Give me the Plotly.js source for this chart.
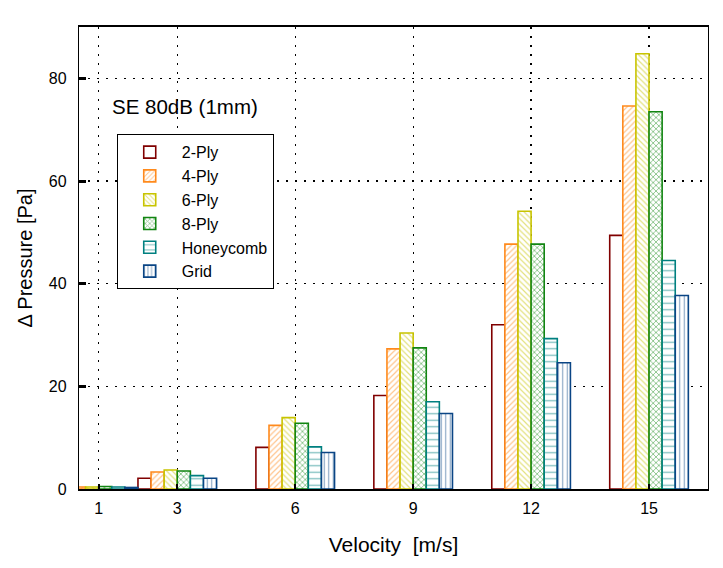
<!DOCTYPE html>
<html>
<head>
<meta charset="utf-8">
<script src="https://cdn.plot.ly/plotly-3.0.1.min.js"></script>
<style>html,body{margin:0;padding:0;background:#fff}#chart{width:723px;height:568px}</style>
</head>
<body>
<div id="chart"></div>
<script>
const velocity = [1, 3, 6, 9, 12, 15];
const tickLabels = ["1", "3", "6", "9", "12", "15"];
const ply2 = [0.3, 2.1, 8.1, 18.2, 32.0, 49.4];
const ply4 = [0.4, 3.3, 12.4, 27.3, 47.7, 74.6];
const ply6 = [0.4, 3.7, 13.9, 30.4, 54.1, 84.8];
const ply8 = [0.5, 3.5, 12.8, 27.5, 47.7, 73.5];
const honeycomb = [0.4, 2.6, 8.2, 17.0, 29.3, 44.5];
const grid = [0.3, 2.1, 7.1, 14.7, 24.6, 37.7];

const seriesNames = ["2-Ply", "4-Ply", "6-Ply", "8-Ply", "Honeycomb", "Grid"];
const seriesData = [ply2, ply4, ply6, ply8, honeycomb, grid];
const colors = ["#800000", "#ff8a1c", "#c8c400", "#118511", "#008080", "#0a4585"];
const shapes = ["", "/", "\\", "x", "-", "|"];
const sizes = [8, 4, 4, 4, 6.5, 4.5];
const solid = [0.25, 0.3, 0.3, 0.4, 0.2, 0.25];

const traces = seriesNames.map((name, i) => ({
  type: "bar",
  name: name,
  x: velocity,
  y: seriesData[i],
  marker: {
    color: "white",
    line: {color: colors[i], width: 1.6},
    pattern: {shape: shapes[i], fgcolor: colors[i], bgcolor: "white", size: sizes[i], solidity: solid[i], fillmode: "overlay"}
  }
}));

const font = "Arial, 'Liberation Sans', sans-serif";
const layout = {
  width: 723, height: 568,
  margin: {l: 79, r: 15, t: 27, b: 79},
  paper_bgcolor: "white", plot_bgcolor: "white",
  barmode: "group", bargap: 0, bargroupgap: 0,
  font: {family: font, size: 16, color: "#000"},
  xaxis: {
    range: [0.5, 16.5],
    tickvals: velocity, ticktext: tickLabels,
    showgrid: true, gridcolor: "#000", griddash: "2px,7px", gridwidth: 1.2,
    showline: true, linecolor: "#000", linewidth: 2, mirror: true,
    ticks: "inside", ticklen: 5, tickwidth: 2, tickcolor: "#000",
    zeroline: false,
    tickfont: {size: 16},
    ticklabelstandoff: 4,
    title: {text: "Velocity  [m/s]", font: {size: 21}, standoff: 21}
  },
  yaxis: {
    range: [0, 90],
    tickvals: [0, 20, 40, 60, 80],
    showgrid: true, gridcolor: "#000", griddash: "2px,7px", gridwidth: 1.2,
    showline: true, linecolor: "#000", linewidth: 1.2, mirror: true,
    ticks: "inside", ticklen: 7, tickwidth: 3, tickcolor: "#000",
    zeroline: false,
    tickfont: {size: 16},
    ticklabelstandoff: 8,
    title: {text: "Δ Pressure [Pa]", font: {size: 20}, standoff: 10}
  },
  legend: {
    x: 0.06, y: 0.768, xanchor: "left", yanchor: "top",
    bgcolor: "white", bordercolor: "#000", borderwidth: 1,
    font: {size: 16}, traceorder: "normal",
    itemwidth: 54
  },
  annotations: [{
    xref: "paper", yref: "paper", x: 0.05, y: 0.828, xanchor: "left", yanchor: "middle",
    text: "SE 80dB (1mm)", showarrow: false, font: {size: 20.5}
  }]
};

Plotly.newPlot("chart", traces, layout, {displayModeBar: false, staticPlot: true});
</script>
</body>
</html>
